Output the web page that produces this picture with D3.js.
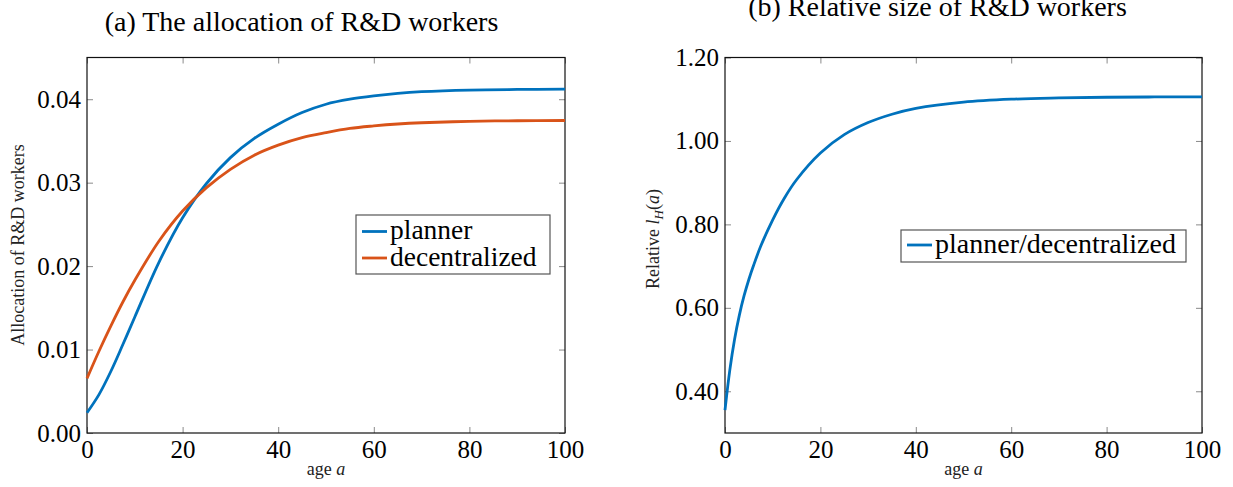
<!DOCTYPE html>
<html>
<head>
<meta charset="utf-8">
<script src="https://cdn.jsdelivr.net/npm/d3@7/dist/d3.min.js"></script>
<style>
  html, body { margin: 0; padding: 0; background: #fff; }
  svg { display: block; font-family: "Liberation Serif", "Times New Roman", serif; }
</style>
</head>
<body>
<svg id="chart" width="1233" height="487"></svg>
<script>
// Age grid and R&D worker allocation by age
const ages = [0, 2.5, 5, 7.5, 10, 15, 20, 25, 30, 35, 40, 45, 50, 55, 60, 65, 70, 80, 90, 100];
const planner = [0.00243, 0.0046, 0.0074, 0.0106, 0.0139, 0.0204, 0.0258, 0.0299, 0.0330, 0.0353, 0.0370, 0.0384, 0.0394, 0.0400, 0.0404, 0.0407, 0.0409, 0.0411, 0.04117, 0.0412];
const decentralized = [0.00655, 0.0098, 0.01284, 0.0157, 0.0183, 0.02295, 0.0266, 0.0294, 0.0316, 0.0333, 0.0345, 0.0354, 0.0360, 0.0365, 0.0368, 0.03703, 0.03718, 0.03735, 0.03742, 0.03745];

// Ratio planner / decentralized
const relAges = [0, 1, 2, 3, 4, 5, 6, 7.5, 10, 12.5, 15, 20, 25, 30, 35, 40, 50, 60, 70, 80, 90, 100];
const relative = [0.355, 0.450, 0.524, 0.582, 0.629, 0.668, 0.702, 0.748, 0.811, 0.864, 0.907, 0.971, 1.015, 1.044, 1.064, 1.078, 1.093, 1.100, 1.103, 1.1047, 1.1054, 1.1057];

const xTicks = [0, 20, 40, 60, 80, 100];
const yTicksA = [0, 0.01, 0.02, 0.03, 0.04];
const yTicksB = [0.4, 0.6, 0.8, 1.0, 1.2];

const BLUE = "#0072BD";
const ORANGE = "#D95319";

const svg = d3.select("#chart");

function panel(opts) {
  const { left, right, top, bottom, yDomain, yTicks } = opts;
  const g = svg.append("g");
  const x = d3.scaleLinear().domain([0, 100]).range([left, right]);
  const y = d3.scaleLinear().domain(yDomain).range([bottom, top]);

  const tickLen = 6;
  // inward ticks on all four sides
  const axB = g.append("g").attr("transform", `translate(0,${bottom})`)
    .call(d3.axisBottom(x).tickValues(xTicks).tickSizeInner(-tickLen).tickSizeOuter(0).tickPadding(7).tickFormat(d3.format("d")));
  const axT = g.append("g").attr("transform", `translate(0,${top})`)
    .call(d3.axisTop(x).tickValues(xTicks).tickSizeInner(-tickLen).tickSizeOuter(0).tickFormat(""));
  const axL = g.append("g").attr("transform", `translate(${left},0)`)
    .call(d3.axisLeft(y).tickValues(yTicks).tickSizeInner(-tickLen).tickSizeOuter(0).tickPadding(6).tickFormat(d3.format(".2f")));
  const axR = g.append("g").attr("transform", `translate(${right},0)`)
    .call(d3.axisRight(y).tickValues(yTicks).tickSizeInner(-tickLen).tickSizeOuter(0).tickFormat(""));
  [axB, axT, axL, axR].forEach(a => {
    a.select(".domain").remove();
    a.selectAll(".tick line").attr("stroke", "#8a8a8a").attr("stroke-width", 1);
    a.selectAll(".tick text").attr("fill", "#000").style("font-family", "Liberation Serif").style("font-size", "25px");
  });

  // plot frame
  g.append("rect")
    .attr("x", left).attr("y", top)
    .attr("width", right - left).attr("height", bottom - top)
    .attr("fill", "none").attr("stroke", "#111").attr("stroke-width", 1.2);

  return { g, x, y };
}

function drawLine(p, xs, ys, color) {
  const line = d3.line()
    .x((d, i) => p.x(xs[i]))
    .y(d => p.y(d))
    .curve(d3.curveCatmullRom.alpha(0.5));
  p.g.append("path")
    .datum(ys)
    .attr("d", line)
    .attr("fill", "none")
    .attr("stroke", color)
    .attr("stroke-width", 2.8)
    .attr("stroke-linejoin", "round");
}

// ---- Panel (a) ----
const pa = panel({ left: 87, right: 565, top: 57.5, bottom: 433, yDomain: [0, 0.045], yTicks: yTicksA });
drawLine(pa, ages, planner, BLUE);
drawLine(pa, ages, decentralized, ORANGE);

svg.append("text")
  .attr("x", 301.5).attr("y", 31)
  .attr("text-anchor", "middle")
  .style("font-size", "28px")
  .text("(a) The allocation of R&D workers");

svg.append("text")
  .attr("transform", "translate(24,245) rotate(-90)")
  .attr("text-anchor", "middle")
  .attr("fill", "#222")
  .style("font-size", "18px")
  .text("Allocation of R&D workers");

const ageA = svg.append("text")
  .attr("x", 326).attr("y", 475)
  .attr("text-anchor", "middle")
  .attr("fill", "#222")
  .style("font-size", "18px");
ageA.append("tspan").text("age ");
ageA.append("tspan").style("font-style", "italic").text("a");

// legend (a)
const legA = svg.append("g");
legA.append("rect")
  .attr("x", 356).attr("y", 215).attr("width", 194).attr("height", 59)
  .attr("fill", "#fff").attr("stroke", "#555").attr("stroke-width", 1.2);
[["planner", BLUE, 231.5], ["decentralized", ORANGE, 258]].forEach(([label, color, yy]) => {
  legA.append("line").attr("x1", 362).attr("x2", 387).attr("y1", yy).attr("y2", yy)
    .attr("stroke", color).attr("stroke-width", 2.8);
  legA.append("text").attr("x", 390).attr("y", yy + 7.5)
    .style("font-size", "27.5px").text(label);
});

// ---- Panel (b) ----
const pb = panel({ left: 725, right: 1202, top: 57.5, bottom: 433, yDomain: [0.3, 1.2], yTicks: yTicksB });
drawLine(pb, relAges, relative, BLUE);

svg.append("text")
  .attr("x", 937.5).attr("y", 16)
  .attr("text-anchor", "middle")
  .style("font-size", "28px")
  .text("(b) Relative size of R&D workers");

const relLabel = svg.append("text")
  .attr("transform", "translate(659,239) rotate(-90)")
  .attr("text-anchor", "middle")
  .attr("fill", "#222")
  .style("font-size", "18px");
relLabel.append("tspan").text("Relative ");
relLabel.append("tspan").style("font-style", "italic").text("l");
relLabel.append("tspan").style("font-style", "italic").style("font-size", "13px").attr("dy", 4).text("H");
relLabel.append("tspan").attr("dy", -4).text("(");
relLabel.append("tspan").style("font-style", "italic").text("a");
relLabel.append("tspan").text(")");

const ageB = svg.append("text")
  .attr("x", 963.5).attr("y", 475)
  .attr("text-anchor", "middle")
  .attr("fill", "#222")
  .style("font-size", "18px");
ageB.append("tspan").text("age ");
ageB.append("tspan").style("font-style", "italic").text("a");

// legend (b)
const legB = svg.append("g");
legB.append("rect")
  .attr("x", 901).attr("y", 230).attr("width", 285).attr("height", 32)
  .attr("fill", "#fff").attr("stroke", "#555").attr("stroke-width", 1.2);
legB.append("line").attr("x1", 907).attr("x2", 932).attr("y1", 245).attr("y2", 245)
  .attr("stroke", BLUE).attr("stroke-width", 2.8);
legB.append("text").attr("x", 935).attr("y", 252.5)
  .style("font-size", "28px").text("planner/decentralized");
</script>
</body>
</html>
